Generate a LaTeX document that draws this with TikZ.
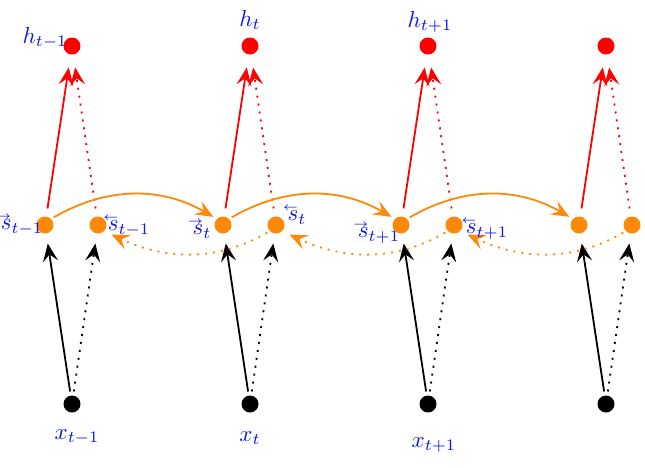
\documentclass[tikz,border=0pt]{standalone}
\usetikzlibrary{arrows.meta}
\definecolor{rnnorange}{RGB}{255,136,8}
\definecolor{rnnred}{RGB}{255,0,0}
\definecolor{rnnblue}{RGB}{10,20,235}
\newcommand{\biglab}[1]{\scalebox{2.3}{#1}}
\newcommand{\fs}{s\llap{\raisebox{1.05ex}{$\scriptscriptstyle\rightarrow$}}}
\newcommand{\bs}{s\llap{\raisebox{1.05ex}{$\scriptscriptstyle\leftarrow$}}}
\begin{document}
\begin{tikzpicture}[x=1pt,y=-1pt,
  dotnode/.style={circle,inner sep=0pt,minimum size=17pt},
  hnode/.style={dotnode,fill=rnnred},
  snode/.style={dotnode,fill=rnnorange},
  xnode/.style={dotnode,fill=black},
  lab/.style={text=rnnblue,inner sep=0pt},
  tip/.style={-{Stealth[length=18pt,width=15pt,inset=7pt]}},
  dots/.style={dash pattern=on 2pt off 6pt},
  redarrow/.style={rnnred,line width=1.8pt,tip},
  blackarrow/.style={black,line width=1.8pt,tip},
  fwd/.style={rnnorange,line width=1.8pt,tip},
  bwd/.style={rnnorange,line width=1.8pt,dots,tip}
]
\useasboundingbox (0,0) rectangle (645,467);
\foreach \i in {0,1,2,3}{
  \pgfmathsetmacro{\dx}{178*\i}
  \node[hnode] (h\i) at (72+\dx,46) {};
  \node[snode] (f\i) at (45+\dx,225) {};
  \node[snode] (b\i) at (98+\dx,225) {};
  \node[xnode] (x\i) at (72+\dx,404) {};
  \draw[redarrow,shorten <=8pt,shorten >=13pt] (f\i) -- (h\i);
  \draw[redarrow,dots,shorten <=8pt,shorten >=13pt] (b\i) -- (h\i);
  \draw[blackarrow,shorten <=4pt,shorten >=10pt] (x\i) -- (f\i);
  \draw[blackarrow,dots,shorten <=4pt,shorten >=10pt] (x\i) -- (b\i);
}
\foreach \i/\j in {0/1,1/2,2/3}{
  \draw[fwd,shorten <=3pt,shorten >=4pt] (f\i.45) to[out=30,in=150] (f\j.135);
  \draw[bwd,shorten <=3pt,shorten >=8pt] (b\j.225) to[out=210,in=-25] (b\i.-45);
}
\node[lab] (lh0) at (45,38) {\biglab{$h_{t-1}$}};
\node[lab] (lh1) at (250,20) {\biglab{$h_{t}$}};
\node[lab] (lh2) at (430,22) {\biglab{$h_{t+1}$}};
\node[lab] (lf0) at (22,225) {\biglab{$\fs_{t-1}$}};
\node[lab] (lb0) at (129,226) {\biglab{$\bs_{t-1}$}};
\node[lab] (lf1) at (202,229) {\biglab{$\fs_{t}$}};
\node[lab] (lb1) at (297,215) {\biglab{$\bs_{t}$}};
\node[lab] (lf2) at (379,233) {\biglab{$\fs_{t+1}$}};
\node[lab] (lb2) at (487,229) {\biglab{$\bs_{t+1}$}};
\node[lab] (lx0) at (77,437) {\biglab{$x_{t-1}$}};
\node[lab] (lx1) at (250,438) {\biglab{$x_{t}$}};
\node[lab] (lx2) at (434,445) {\biglab{$x_{t+1}$}};
\end{tikzpicture}
\end{document}
